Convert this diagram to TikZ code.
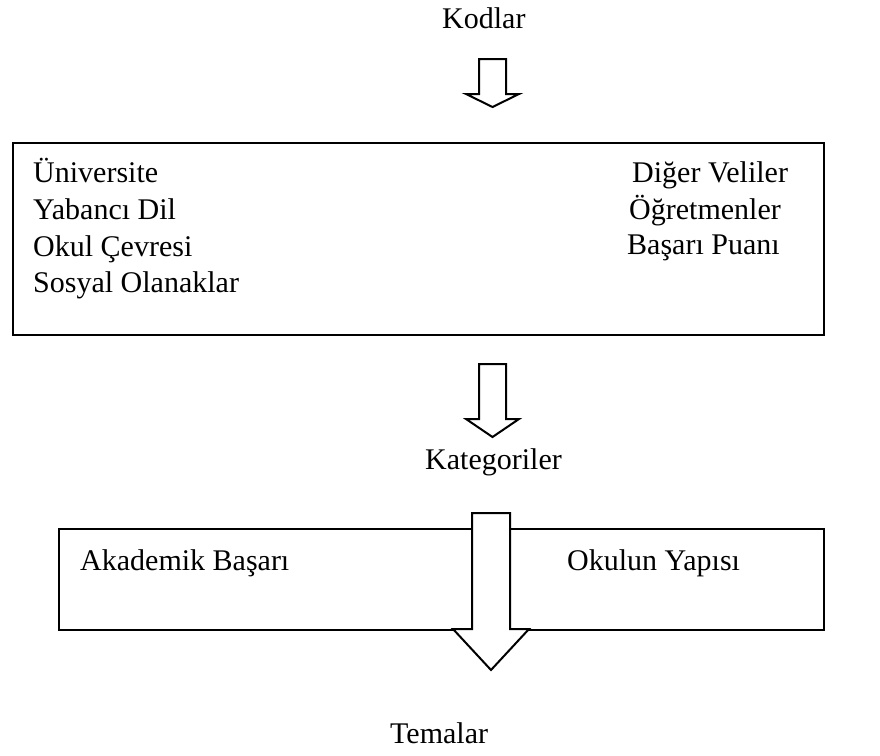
\documentclass[tikz,border=0pt]{standalone}
\usepackage{fontspec}
\setmainfont{Liberation Serif}
\begin{document}
\begin{tikzpicture}[x=1pt,y=-1pt,
      txt/.style={anchor=base west,inner sep=0pt,font=\fontsize{30}{36}\selectfont},
      box/.style={draw,line width=2pt,anchor=north west,inner sep=0pt},
      blk/.style={draw,fill=white,line width=2pt,line join=miter}]
    \useasboundingbox (0,0) rectangle (880,755);
    % codes
    \node[txt] (kod) at (442,28) {Kodlar};
    \draw[blk] (479,59) -- (506,59) -- (506,94) -- (519,94) -- (492.5,107)
      -- (466,94) -- (479,94) -- cycle;
    \node[box,minimum width=811pt,minimum height=192pt] (kodbox) at (12,142) {};
    \foreach \n/\y/\t in {uni/182/Üniversite,yab/219/Yabancı Dil,okul/256/Okul Çevresi,sos/292/Sosyal Olanaklar}
      \node[txt] (\n) at (33,\y) {\t};
    \node[txt] (dig) at (632,182) {Diğer Veliler};
    \node[txt] (ogr) at (629,219) {Öğretmenler};
    \node[txt] (bas) at (627,254) {Başarı Puanı};
    % categories
    \draw[blk] (479,364) -- (506,364) -- (506,419) -- (519,419) -- (492.5,437)
      -- (466,419) -- (479,419) -- cycle;
    \node[txt] (kat) at (425,469) {Kategoriler};
    \node[box,minimum width=765pt,minimum height=101pt] (katbox) at (58,528) {};
    \node[txt] (aka) at (80,570) {Akademik Başarı};
    \node[txt] (yap) at (567,570) {Okulun Yapısı};
    % themes
    \draw[blk] (472,513) -- (510,513) -- (510,629) -- (529,629) -- (491,670)
      -- (453,629) -- (472,629) -- cycle;
    \node[txt] (tem) at (390,743) {Temalar};
\end{tikzpicture}
\end{document}
